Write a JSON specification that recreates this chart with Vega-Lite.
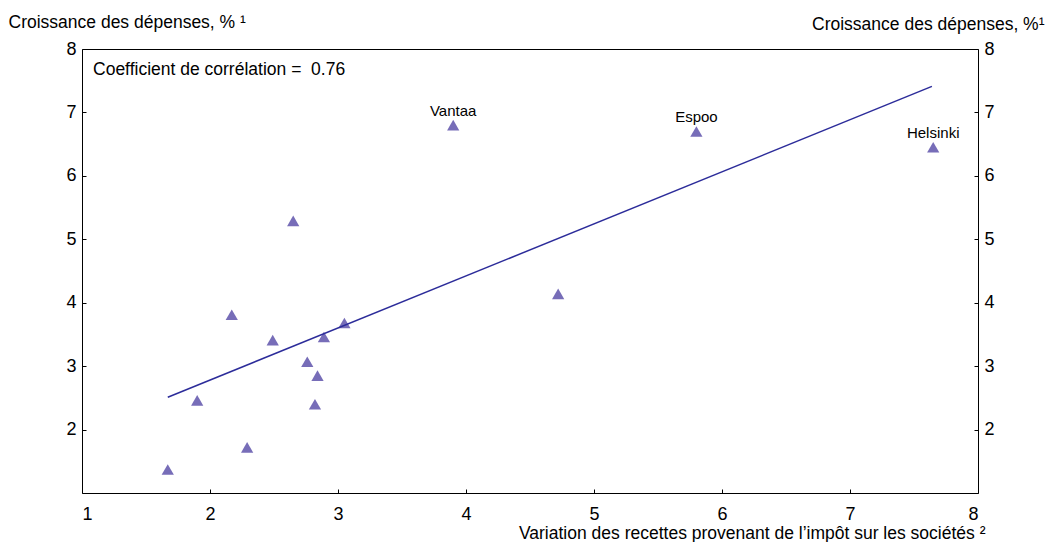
{
  "$schema": "https://vega.github.io/schema/vega-lite/v6.json",
  "width": 896,
  "height": 444,
  "autosize": {"type": "none"},
  "padding": {"left": 82, "top": 49, "right": 73, "bottom": 49},
  "background": "white",
  "config": {
    "font": "Liberation Sans",
    "view": {"stroke": "#000000", "strokeWidth": 1},
    "axis": {
      "grid": false,
      "domain": false,
      "tickColor": "#000000",
      "tickSize": -4,
      "labelColor": "#000000",
      "labelFontSize": 18,
      "labelFont": "Liberation Sans",
      "titleFont": "Liberation Sans",
      "titleFontSize": 17.5,
      "titleFontWeight": "normal",
      "titleColor": "#000000"
    }
  },
  "datasets": {
    "pts": [
      {"x": 1.67, "y": 1.37, "label": ""},
      {"x": 1.90, "y": 2.46, "label": ""},
      {"x": 2.17, "y": 3.81, "label": ""},
      {"x": 2.29, "y": 1.72, "label": ""},
      {"x": 2.49, "y": 3.41, "label": ""},
      {"x": 2.65, "y": 5.29, "label": ""},
      {"x": 2.76, "y": 3.07, "label": ""},
      {"x": 2.82, "y": 2.40, "label": ""},
      {"x": 2.84, "y": 2.85, "label": ""},
      {"x": 2.89, "y": 3.46, "label": ""},
      {"x": 3.05, "y": 3.68, "label": ""},
      {"x": 3.90, "y": 6.80, "label": "Vantaa"},
      {"x": 4.72, "y": 4.14, "label": ""},
      {"x": 5.80, "y": 6.70, "label": "Espoo"},
      {"x": 7.65, "y": 6.45, "label": "Helsinki"}
    ],
    "fit": [
      {"x": 1.67, "y": 2.51},
      {"x": 7.64, "y": 7.41}
    ],
    "note": [
      {"x": 1.086, "y": 7.59, "t": "Coefficient de corrélation = \u00a00.76"}
    ]
  },
  "encoding": {
    "x": {
      "field": "x",
      "type": "quantitative",
      "scale": {"domain": [1, 8], "nice": false, "zero": false},
      "axis": {
        "orient": "bottom",
        "values": [1, 2, 3, 4, 5, 6, 7, 8],
        "labelPadding": 16,
        "title": "Variation des recettes provenant de l’impôt sur les sociétés ²",
        "titleAlign": "right",
        "titleAnchor": null,
        "titleX": 903,
        "titleY": 45,
        "titleBaseline": "alphabetic"
      }
    }
  },
  "layer": [
    {
      "data": {"name": "pts"},
      "mark": {"type": "point", "shape": "triangle-up", "filled": true, "size": 150, "color": "#776db8", "opacity": 1},
      "encoding": {
        "y": {
          "field": "y",
          "type": "quantitative",
          "scale": {"domain": [1, 8], "nice": false, "zero": false},
          "axis": {
            "orient": "left",
            "values": [2, 3, 4, 5, 6, 7, 8],
            "labelPadding": 10,
            "title": "Croissance des dépenses, %  ¹",
            "titleAngle": 0,
            "titleAlign": "left",
            "titleAnchor": null,
            "titleX": -74,
            "titleY": -22,
            "titleBaseline": "alphabetic"
          }
        }
      }
    },
    {
      "data": {"name": "fit"},
      "mark": {"type": "line", "color": "#2c2c9a", "strokeWidth": 1.5},
      "encoding": {
        "y": {
          "field": "y",
          "type": "quantitative",
          "scale": {"domain": [1, 8], "nice": false, "zero": false},
          "axis": {
            "orient": "right",
            "values": [2, 3, 4, 5, 6, 7, 8],
            "labelPadding": 10,
            "title": "Croissance des dépenses, %¹",
            "titleAngle": 0,
            "titleAlign": "right",
            "titleAnchor": null,
            "titleX": 66,
            "titleY": -20,
            "titleBaseline": "alphabetic"
          }
        }
      }
    },
    {
      "data": {"name": "pts"},
      "transform": [{"filter": "datum.label != ''"}],
      "mark": {"type": "text", "baseline": "alphabetic", "dy": -9, "fontSize": 15, "color": "#000000"},
      "encoding": {
        "y": {"field": "y", "type": "quantitative", "axis": null},
        "text": {"field": "label"}
      }
    },
    {
      "data": {"name": "note"},
      "mark": {"type": "text", "align": "left", "baseline": "alphabetic", "fontSize": 17.5, "color": "#000000"},
      "encoding": {
        "y": {"field": "y", "type": "quantitative", "axis": null},
        "text": {"field": "t"}
      }
    }
  ],
  "resolve": {"axis": {"y": "independent"}}
}
